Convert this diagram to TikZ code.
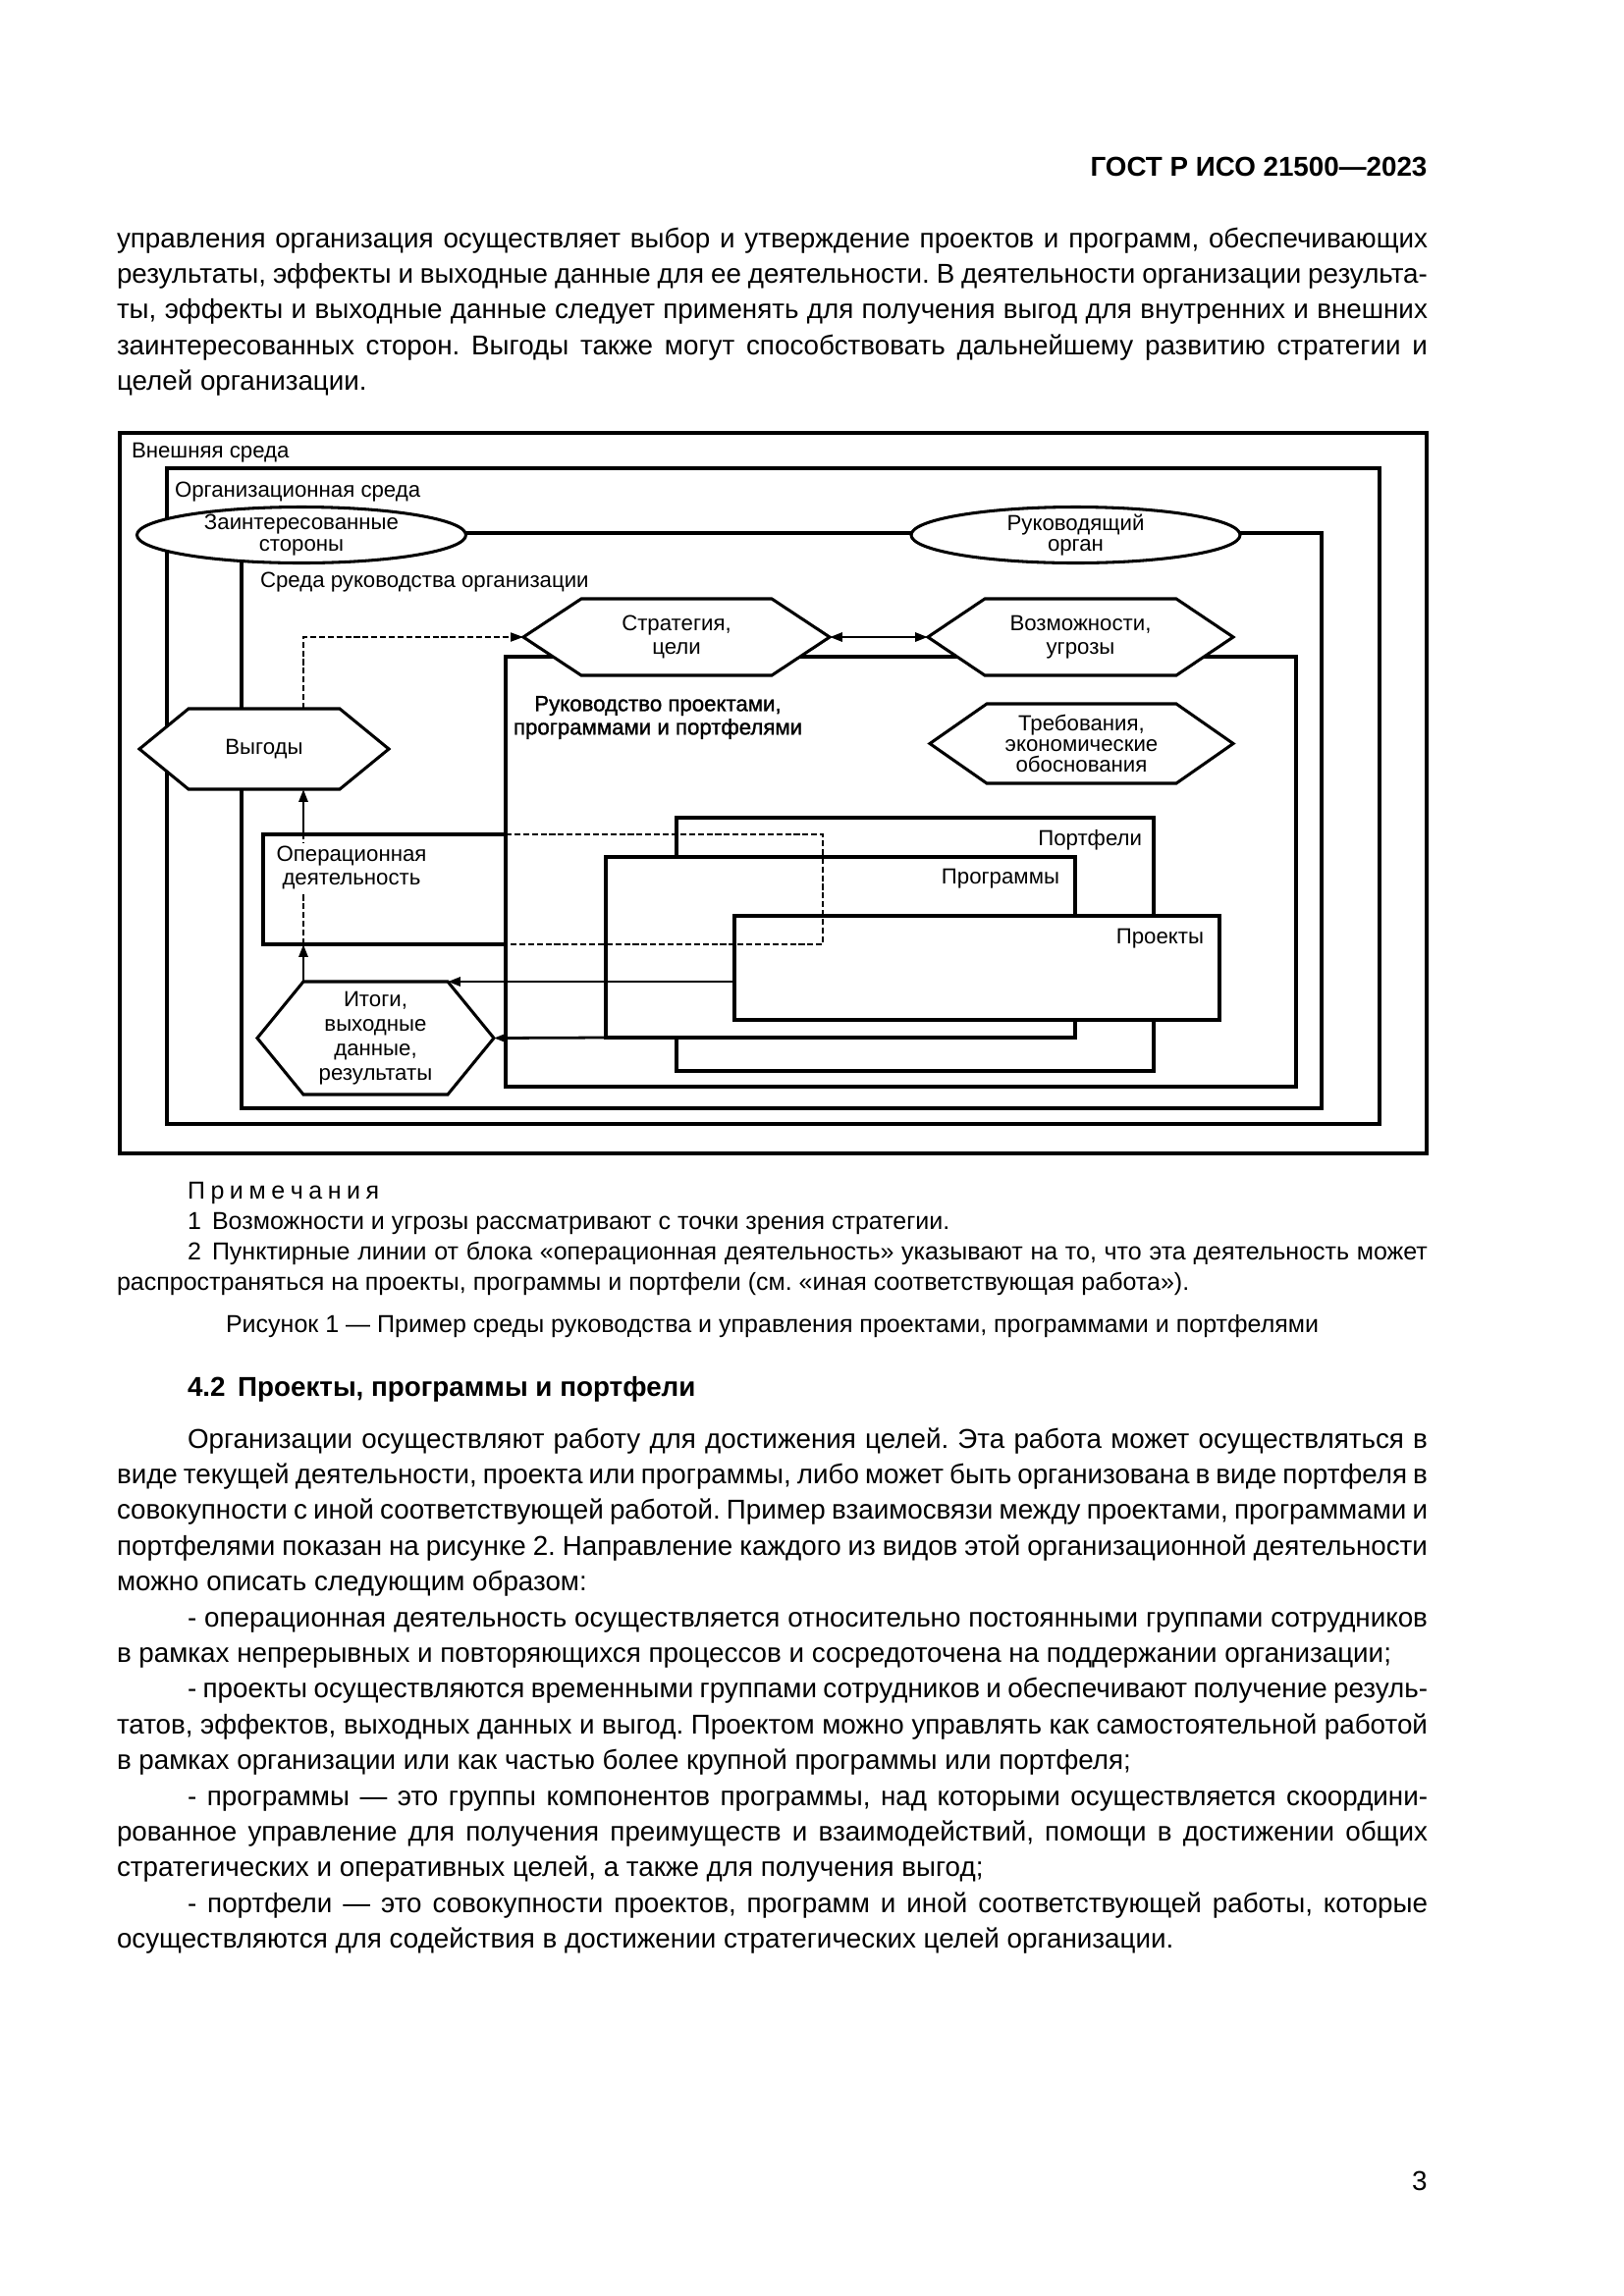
\documentclass[tikz,border=0pt]{standalone}
\usepackage{fontspec}
\setmainfont{Liberation Sans}
\newfontfamily\semib[FakeBold=1.3]{Liberation Sans}
\usetikzlibrary{calc,shapes.geometric,arrows.meta}
\pgfdeclarelayer{bg}
\pgfdeclarelayer{boxes}
\pgfdeclarelayer{fills}
\pgfsetlayers{bg,boxes,fills,main}
\frenchspacing
\newlength{\pxu}\setlength{\pxu}{0.3599pt}
\newcommand\jl[1]{\hbox to\hsize{#1}}
\newcommand\nl[1]{\hbox{#1}}
\newcommand\ind{\hskip72\pxu\relax}
\newcommand\sps{\kern2pt}
\newcommand\dfont[1]{\fontsize{8}{#1}\selectfont}
\newcommand\frm[6][]{\node[frame,#1,minimum width={(#5-#3)*\pxu},minimum height={(#6-#4)*\pxu}] (#2) at ({(#3+#5)/2},{(#4+#6)/2}) {};}
\newcommand\hexshape[2]{%
  \begin{pgfonlayer}{fills}
  \draw[hexline] (#1.west) -- ($(#1.north west)+(#2,0)$) -- ($(#1.north east)+(-#2,0)$) -- (#1.east) -- ($(#1.south east)+(-#2,0)$) -- ($(#1.south west)+(#2,0)$) -- cycle;
  \end{pgfonlayer}}
\tikzset{
  frame/.style={draw, line width=1.1pt, inner sep=0pt, outer sep=0pt},
  hexn/.style n args={2}{draw=none, inner sep=0pt, outer sep=0pt, minimum width={#1*\pxu}, minimum height={#2*\pxu}, align=center},
  hexline/.style={draw, line width=1.1pt, fill=white, line join=miter},
  lbl/.style={inner sep=0pt, outer sep=0pt, font=\dfont{8.6}},
  ell/.style={ellipse, draw, line width=1.1pt, fill=white, minimum width={335*\pxu}, minimum height={57*\pxu}, inner xsep=0pt, inner ysep=-4pt, align=center, font=\dfont{7.6}},
  tip/.tip={Triangle[length=4.6pt,width=3.2pt]},
  arr/.style={line width=1pt, -tip},
  dsh/.style={line width=0.7pt, dash pattern=on 2.2pt off 1pt},
  darr/.style={line width=1pt, tip-tip},
  body/.style={anchor=base west, inner sep=0pt, outer sep=0pt}
}
\begin{document}
\begin{tikzpicture}[x=0.3599pt,y=-0.3599pt]
\begin{pgfonlayer}{bg}
\fill[white] (0,0) rectangle (1654,2339);
\end{pgfonlayer}
\useasboundingbox (0,0) rectangle (1654,2339);

% header
\node[anchor=base east, inner sep=0pt, font=\bfseries\fontsize{10}{12}\selectfont] (hdr) at (1454,179) {ГОСТ Р ИСО 21500—2023};

% first paragraph
\node[body] (par1) at (119,252) {\parbox[t]{1335\pxu}{\fontsize{10}{13.1}\selectfont
\jl{управления организация осуществляет выбор и утверждение проектов и программ, обеспечивающих}
\jl{результаты, эффекты и выходные данные для ее деятельности. В деятельности организации результа-}
\jl{ты, эффекты и выходные данные следует применять для получения выгод для внутренних и внешних}
\jl{заинтересованных сторон. Выгоды также могут способствовать дальнейшему развитию стратегии и}
\nl{целей организации.}}};

% ---------- diagram: shapes ----------
\node[hexn={312}{78}, font=\dfont{8.6}] (strat) at (689,649) {Стратегия,\\цели};
\hexshape{strat}{59}
\node[hexn={311}{78}, font=\dfont{8.6}] (vozm) at (1100.5,649) {Возможности,\\угрозы};
\hexshape{vozm}{58}
\node[hexn={309}{81}, font=\dfont{7.4}] (treb) at (1101.5,757.5) {Требования,\\экономические\\обоснования};
\hexshape{treb}{58}
\node[hexn={254}{82}, font=\dfont{8.6}] (vyg) at (269,763) {Выгоды};
\hexshape{vyg}{50}
\node[hexn={241}{115}, font=\dfont{9}] (itogi) at (382.5,1057.5) {Итоги,\\выходные\\данные,\\результаты};
\hexshape{itogi}{47}

\node[ell] (zain) at (307,545) {Заинтересованные\\стороны};
\node[ell] (ruk) at (1095.5,545) {Руководящий\\орган};

\coordinate (itc) at ($(itogi.north west)+(47,0)$);
\coordinate (itr) at ($(itogi.north east)+(-47,0)$);
\coordinate (opx) at (838,906);

\begin{pgfonlayer}{boxes}
\frm{ext}{122}{441}{1453}{1175}
\frm{org}{170}{477}{1405}{1145}
\frm{gov}{246}{543}{1346}{1129}
\frm{pgov}{515}{669}{1320}{1107}
\frm{ops}{268}{850}{515}{962}
\frm[fill=white]{port}{689}{833}{1175}{1091}
\frm[fill=white]{progs}{617}{873}{1095}{1057}
\frm[fill=white]{projs}{748}{933}{1242}{1039}
\end{pgfonlayer}

% labels
\node[lbl, anchor=base west] (l-ext) at (134,466) {Внешняя среда};
\node[lbl, anchor=base west] (l-org) at (178,506) {Организационная среда};
\node[lbl, anchor=base west] (l-gov) at (265,598) {Среда руководства организации};
\node[lbl, align=center, font=\semib\dfont{8.6}] (l-pgov) at (670,731) {Руководство проектами,\\программами и портфелями};
\node[lbl, anchor=base east] (l-port) at (1163,861) {Портфели};
\node[lbl, anchor=base east] (l-progs) at (1079,900) {Программы};
\node[lbl, anchor=base east] (l-projs) at (1226,961) {Проекты};

% connectors
\draw[dsh] (itc |- ops.south) -- (itc |- ops.north);
\node[lbl, align=center, fill=white, inner sep=1pt] (l-ops) at (358,884) {Операционная\\деятельность};
\draw[arr] (itc) -- (itc |- ops.south);
\draw[arr] (itc |- ops.north) -- (itc |- vyg.south);
\draw[dsh, -tip] (itc |- vyg.north) -- (itc |- strat.west) -- (strat.west);
\draw[darr] (strat.east) -- (vozm.west);
\draw[dsh] (ops.north east) -| (opx) |- (ops.south east);
\draw[arr] (projs.west |- itr) -- (itr);
\draw[arr] (progs.south west) -- (itogi.east);

% notes
\node[body] (notes) at (119,1221) {\parbox[t]{1335\pxu}{\fontsize{9}{11.2}\selectfont
\nl{\ind П\sps р\sps и\sps м\sps е\sps ч\sps а\sps н\sps и\sps я}
\nl{\ind 1\hspace{4pt}Возможности и угрозы рассматривают с точки зрения стратегии.}
\jl{\ind 2\hspace{4pt}Пунктирные линии от блока «операционная деятельность» указывают на то, что эта деятельность может}
\nl{распространяться на проекты, программы и портфели (см. «иная соответствующая работа»).}}};

\node[anchor=base, inner sep=0pt, font=\fontsize{9}{11}\selectfont] (cap) at (786.5,1357) {Рисунок 1 — Пример среды руководства и управления проектами, программами и портфелями};

\node[body, font=\bfseries\fontsize{10}{12}\selectfont] (sec) at (191,1422) {4.2\hspace{4.5pt}Проекты, программы и портфели};

\node[body] (par2) at (119,1475) {\parbox[t]{1335\pxu}{\fontsize{10}{13.1}\selectfont
\jl{\ind Организации осуществляют работу для достижения целей. Эта работа может осуществляться в}
\jl{виде текущей деятельности, проекта или программы, либо может быть организована в виде портфеля в}
\jl{совокупности с иной соответствующей работой. Пример взаимосвязи между проектами, программами и}
\jl{портфелями показан на рисунке 2. Направление каждого из видов этой организационной деятельности}
\nl{можно описать следующим образом:}
\jl{\ind - операционная деятельность осуществляется относительно постоянными группами сотрудников}
\nl{в рамках непрерывных и повторяющихся процессов и сосредоточена на поддержании организации;}
\jl{\ind - проекты осуществляются временными группами сотрудников и обеспечивают получение резуль-}
\jl{татов, эффектов, выходных данных и выгод. Проектом можно управлять как самостоятельной работой}
\nl{в рамках организации или как частью более крупной программы или портфеля;}
\jl{\ind - программы — это группы компонентов программы, над которыми осуществляется скоордини-}
\jl{рованное управление для получения преимуществ и взаимодействий, помощи в достижении общих}
\nl{стратегических и оперативных целей, а также для получения выгод;}
\jl{\ind - портфели — это совокупности проектов, программ и иной соответствующей работы, которые}
\nl{осуществляются для содействия в достижении стратегических целей организации.}}};

\node[anchor=base east, inner sep=0pt, font=\fontsize{10}{12}\selectfont] (pg) at (1454,2231) {3};
\end{tikzpicture}
\end{document}
